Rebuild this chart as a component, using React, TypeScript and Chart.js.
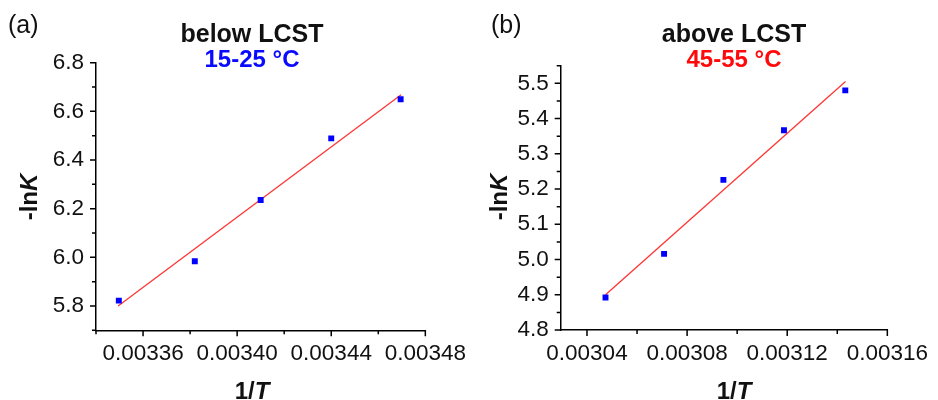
import { useEffect, useRef } from "react";
import { Chart, registerables } from "chart.js";

Chart.register(...registerables);

const FONT = '"Liberation Sans", Arial, Helvetica, sans-serif';

// (a) below LCST, 15–25 °C
const invTempA = [0.0033497, 0.003382, 0.00341, 0.00344, 0.0034695];
const lnKA = [5.822, 5.984, 6.236, 6.489, 6.65];
const fitXA = [0.0033494, 0.0034697];
const fitYA = [5.8, 6.668];
const xTicksA = [0.00336, 0.0034, 0.00344, 0.00348];
const xMinorA = [0.00334, 0.00338, 0.00342, 0.00346];
const yTicksA = [5.8, 6.0, 6.2, 6.4, 6.6, 6.8];
const yMinorA = [5.7, 5.9, 6.1, 6.3, 6.5, 6.7];

// (b) above LCST, 45–55 °C
const invTempB = [0.0030474, 0.0030708, 0.0030945, 0.0031187, 0.0031432];
const lnKB = [4.892, 5.016, 5.226, 5.367, 5.48];
const fitXB = [0.0030474, 0.0031433];
const fitYB = [4.9, 5.505];
const xTicksB = [0.00304, 0.00308, 0.00312, 0.00316];
const xMinorB = [0.00306, 0.0031, 0.00314];
const yTicksB = [4.8, 4.9, 5.0, 5.1, 5.2, 5.3, 5.4, 5.5];
const yMinorB = [4.85, 4.95, 5.05, 5.15, 5.25, 5.35, 5.45, 5.55];

type Panel = {
  id: string;
  tag: string;
  title: string;
  range: string;
  rangeColor: string;
  xs: number[];
  ys: number[];
  fitX: number[];
  fitY: number[];
  xMin: number;
  xMax: number;
  yMin: number;
  yMax: number;
  xTicks: number[];
  xMinor: number[];
  yTicks: number[];
  yMinor: number[];
  // canvas placement and plot box inside the canvas
  left: number;
  width: number;
  plotLeft: number;
  plotRight: number;
  plotTop: number;
  plotBottom: number;
  titleX: number;
  tagX: number;
  yTitleX: number;
};

const panelA: Panel = {
  id: "a",
  tag: "(a)",
  title: "below LCST",
  range: "15-25 °C",
  rangeColor: "#0a0aff",
  xs: invTempA,
  ys: lnKA,
  fitX: fitXA,
  fitY: fitYA,
  xMin: 0.00334,
  xMax: 0.00348,
  yMin: 5.7,
  yMax: 6.8,
  xTicks: xTicksA,
  xMinor: xMinorA,
  yTicks: yTicksA,
  yMinor: yMinorA,
  left: 0,
  width: 476,
  plotLeft: 96,
  plotRight: 426.7,
  plotTop: 62.7,
  plotBottom: 330.3,
  titleX: 252,
  tagX: 8,
  yTitleX: 37,
};

const panelB: Panel = {
  id: "b",
  tag: "(b)",
  title: "above LCST",
  range: "45-55 °C",
  rangeColor: "#ff0a0a",
  xs: invTempB,
  ys: lnKB,
  fitX: fitXB,
  fitY: fitYB,
  xMin: 0.0030295,
  xMax: 0.00316,
  yMin: 4.8,
  yMax: 5.55,
  xTicks: xTicksB,
  xMinor: xMinorB,
  yTicks: yTicksB,
  yMinor: yMinorB,
  left: 470,
  width: 468,
  plotLeft: 90.7,
  plotRight: 420.7,
  plotTop: 65.7,
  plotBottom: 330,
  titleX: 264,
  tagX: 21,
  yTitleX: 36.7,
};

type Part = { text: string; italic?: boolean };

function drawRich(ctx: CanvasRenderingContext2D, parts: Part[], size: number, cx: number, baseline: number) {
  const fontOf = (p: Part) => `${p.italic ? "italic " : ""}bold ${size}px ${FONT}`;
  let total = 0;
  const widths = parts.map((p) => {
    ctx.font = fontOf(p);
    const w = ctx.measureText(p.text).width;
    total += w;
    return w;
  });
  let x = cx - total / 2;
  ctx.textAlign = "left";
  ctx.textBaseline = "alphabetic";
  parts.forEach((p, i) => {
    ctx.font = fontOf(p);
    ctx.fillText(p.text, x, baseline);
    x += widths[i];
  });
}

function decorations(panel: Panel) {
  return {
    id: "decor-" + panel.id,
    afterDraw(chart: Chart) {
      const ctx = chart.ctx;
      const xs = chart.scales.x;
      const ys = chart.scales.y;
      const area = chart.chartArea;
      ctx.save();
      ctx.strokeStyle = "#000";
      ctx.lineWidth = 1.5;
      ctx.beginPath();
      const xTick = (v: number, len: number) => {
        const px = xs.getPixelForValue(v);
        ctx.moveTo(px, area.bottom);
        ctx.lineTo(px, area.bottom + len);
      };
      const yTick = (v: number, len: number) => {
        const py = ys.getPixelForValue(v);
        ctx.moveTo(area.left, py);
        ctx.lineTo(area.left - len, py);
      };
      panel.xTicks.forEach((v) => xTick(v, 6));
      panel.xMinor.forEach((v) => xTick(v, 4));
      panel.yTicks.forEach((v) => yTick(v, 6));
      panel.yMinor.forEach((v) => yTick(v, 4));
      ctx.stroke();

      // panel tag and headings
      ctx.fillStyle = "#111";
      ctx.font = `25px ${FONT}`;
      ctx.textAlign = "left";
      ctx.textBaseline = "alphabetic";
      ctx.fillText(panel.tag, panel.tagX, 33);

      ctx.textAlign = "center";
      ctx.font = `bold 25px ${FONT}`;
      ctx.fillText(panel.title, panel.titleX, 42);
      ctx.fillStyle = panel.rangeColor;
      ctx.font = `bold 24px ${FONT}`;
      ctx.fillText(panel.range, panel.titleX, 67);

      // axis titles
      ctx.fillStyle = "#111";
      drawRich(ctx, [{ text: "1/" }, { text: "T", italic: true }], 24, panel.titleX, 399);
      ctx.save();
      ctx.translate(panel.yTitleX, 197);
      ctx.rotate(-Math.PI / 2);
      drawRich(ctx, [{ text: "-ln" }, { text: "K", italic: true }], 24, 0, 0);
      ctx.restore();
      ctx.restore();
    },
  };
}

function PanelChart({ panel }: { panel: Panel }) {
  const ref = useRef<HTMLCanvasElement>(null);
  useEffect(() => {
    const canvas = ref.current;
    if (!canvas) return;
    const tickFont = { family: FONT, size: 22.5 };
    const chart = new Chart(canvas, {
      type: "scatter",
      data: {
        datasets: [
          {
            type: "scatter",
            data: panel.xs.map((x, i) => ({ x, y: panel.ys[i] })),
            pointStyle: "rect",
            pointRadius: 4.2,
            pointHoverRadius: 4.2,
            backgroundColor: "#0000ff",
            borderColor: "#0000ff",
            borderWidth: 0,
            order: 0,
          },
          {
            type: "line",
            data: panel.fitX.map((x, i) => ({ x, y: panel.fitY[i] })),
            borderColor: "#ff3535",
            borderWidth: 1.3,
            pointRadius: 0,
            fill: false,
            tension: 0,
            order: 1,
          },
        ],
      },
      options: {
        responsive: false,
        animation: false,
        devicePixelRatio: 1,
        events: [],
        layout: {
          padding: {
            left: 0,
            top: panel.plotTop,
            right: panel.width - panel.plotRight,
            bottom: 0,
          },
        },
        plugins: {
          legend: { display: false },
          tooltip: { enabled: false },
          title: { display: false },
        },
        scales: {
          x: {
            type: "linear",
            min: panel.xMin,
            max: panel.xMax,
            afterBuildTicks: (scale: any) => {
              scale.ticks = panel.xTicks.map((value) => ({ value }));
            },
            afterFit: (scale: any) => {
              scale.height = 400 - panel.plotBottom;
            },
            grid: { display: false, drawTicks: false },
            border: { display: true, color: "#000", width: 1.5 },
            ticks: {
              autoSkip: false,
              maxRotation: 0,
              minRotation: 0,
              padding: 10,
              color: "#111",
              font: tickFont,
              callback: (v: any) => Number(v).toFixed(5),
            },
          },
          y: {
            type: "linear",
            min: panel.yMin,
            max: panel.yMax,
            afterBuildTicks: (scale: any) => {
              scale.ticks = panel.yTicks.map((value) => ({ value }));
            },
            afterFit: (scale: any) => {
              scale.width = panel.plotLeft;
            },
            grid: { display: false, drawTicks: false },
            border: { display: true, color: "#000", width: 1.5 },
            ticks: {
              autoSkip: false,
              padding: 12,
              color: "#111",
              font: tickFont,
              callback: (v: any) => Number(v).toFixed(1),
            },
          },
        },
      },
      plugins: [decorations(panel)],
    });
    return () => chart.destroy();
  }, [panel]);
  return (
    <canvas
      ref={ref}
      width={panel.width}
      height={400}
      style={{ position: "absolute", left: panel.left, top: 0, display: "block" }}
    />
  );
}

export default function App() {
  return (
    <div style={{ position: "absolute", left: 0, top: 0, width: 938, height: 400, background: "#fff", overflow: "hidden" }}>
      <PanelChart panel={panelA} />
      <PanelChart panel={panelB} />
    </div>
  );
}
